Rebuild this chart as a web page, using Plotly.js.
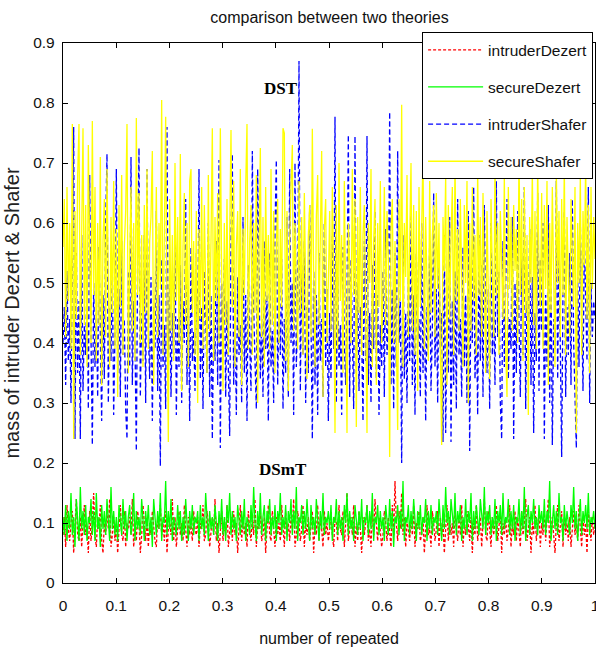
<!DOCTYPE html>
<html>
<head>
<meta charset="utf-8">
<script src="https://cdn.plot.ly/plotly-3.0.1.min.js"></script>
<style>html,body{margin:0;padding:0;background:#fff;}#chart{width:596px;height:652px;}</style>
</head>
<body>
<div id="chart"></div>
<script>
// ---- data (estimated) ----
var xStart = 0, xEnd = 1;
var seriesNames = ["intruderDezert", "secureDezert", "intruderShafer", "secureShafer"];

var intruderDezert = [
0.08,0.11,0.06,0.13,0.09,0.07,0.10,0.12,0.05,0.09,0.14,0.08,0.07,0.11,0.06,0.10,0.13,0.08,0.09,0.05,
0.12,0.07,0.10,0.15,0.08,0.06,0.11,0.09,0.13,0.07,0.05,0.10,0.08,0.12,0.09,0.14,0.06,0.08,0.11,0.07,
0.10,0.05,0.09,0.13,0.08,0.07,0.12,0.06,0.10,0.09,0.11,0.08,0.14,0.06,0.09,0.07,0.12,0.10,0.05,0.08,
0.13,0.09,0.07,0.11,0.06,0.10,0.08,0.12,0.09,0.07,0.06,0.11,0.09,0.13,0.08,0.10,0.07,0.12,0.05,0.09,
0.10,0.08,0.14,0.07,0.11,0.06,0.09,0.12,0.08,0.10,0.07,0.13,0.09,0.06,0.11,0.08,0.10,0.07,0.12,0.09,
0.08,0.11,0.06,0.10,0.09,0.13,0.07,0.08,0.12,0.10,0.06,0.09,0.11,0.08,0.14,0.07,0.10,0.05,0.09,0.12,
0.07,0.10,0.08,0.13,0.06,0.09,0.11,0.07,0.12,0.08,0.10,0.05,0.09,0.13,0.07,0.11,0.08,0.10,0.06,0.12,
0.09,0.07,0.11,0.08,0.14,0.06,0.10,0.09,0.12,0.07,0.08,0.11,0.05,0.10,0.13,0.08,0.07,0.12,0.09,0.06,
0.11,0.08,0.10,0.07,0.13,0.09,0.06,0.12,0.08,0.10,0.07,0.11,0.09,0.14,0.06,0.08,0.12,0.10,0.07,0.09,
0.13,0.06,0.10,0.08,0.11,0.07,0.09,0.12,0.05,0.10,0.08,0.13,0.07,0.11,0.09,0.06,0.12,0.08,0.10,0.07,
0.09,0.12,0.08,0.06,0.11,0.10,0.07,0.13,0.09,0.08,0.12,0.06,0.10,0.15,0.07,0.09,0.11,0.08,0.13,0.06,
0.10,0.07,0.12,0.09,0.05,0.11,0.08,0.10,0.13,0.07,0.09,0.06,0.12,0.08,0.14,0.10,0.07,0.11,0.09,0.06,
0.08,0.12,0.10,0.07,0.11,0.09,0.06,0.13,0.08,0.17,0.10,0.07,0.12,0.09,0.15,0.08,0.11,0.06,0.10,0.09,
0.07,0.11,0.08,0.13,0.06,0.10,0.09,0.12,0.07,0.08,0.11,0.05,0.10,0.13,0.08,0.09,0.06,0.12,0.10,0.07,
0.09,0.12,0.06,0.11,0.08,0.10,0.05,0.09,0.13,0.07,0.11,0.08,0.10,0.06,0.12,0.09,0.07,0.11,0.08,0.13,
0.06,0.10,0.08,0.12,0.09,0.07,0.11,0.05,0.10,0.08,0.13,0.07,0.09,0.11,0.06,0.10,0.14,0.08,0.07,0.12,
0.09,0.06,0.11,0.08,0.10,0.13,0.07,0.09,0.12,0.05,0.10,0.08,0.11,0.07,0.09,0.13,0.06,0.10,0.08,0.12,
0.07,0.11,0.09,0.06,0.12,0.08,0.10,0.14,0.07,0.09,0.11,0.05,0.10,0.08,0.13,0.07,0.09,0.12,0.06,0.10,
0.08,0.12,0.07,0.10,0.14,0.06,0.09,0.11,0.08,0.05,0.10,0.13,0.07,0.09,0.12,0.06,0.11,0.08,0.10,0.07,
0.11,0.06,0.09,0.12,0.08,0.10,0.07,0.13,0.09,0.06,0.11,0.08,0.10,0.05,0.12,0.09,0.07,0.11,0.08,0.10];

var secureDezert = [
0.11,0.08,0.13,0.07,0.12,0.09,0.15,0.08,0.11,0.06,0.14,0.10,0.07,0.16,0.09,0.12,0.08,0.13,0.07,0.11,
0.10,0.14,0.08,0.12,0.07,0.15,0.09,0.11,0.06,0.13,0.09,0.12,0.08,0.14,0.10,0.07,0.16,0.09,0.12,0.08,
0.11,0.07,0.13,0.10,0.08,0.14,0.09,0.12,0.07,0.11,0.13,0.08,0.10,0.15,0.07,0.12,0.09,0.11,0.08,0.14,
0.10,0.07,0.12,0.09,0.13,0.08,0.11,0.06,0.14,0.10,0.08,0.12,0.09,0.15,0.07,0.11,0.10,0.17,0.08,0.12,
0.09,0.14,0.07,0.11,0.10,0.08,0.13,0.09,0.12,0.07,0.11,0.08,0.14,0.10,0.07,0.12,0.09,0.13,0.08,0.11,
0.10,0.12,0.07,0.13,0.09,0.11,0.08,0.15,0.10,0.07,0.12,0.09,0.11,0.08,0.13,0.10,0.07,0.12,0.09,0.14,
0.08,0.11,0.07,0.13,0.10,0.15,0.08,0.12,0.09,0.11,0.07,0.13,0.10,0.08,0.12,0.09,0.14,0.07,0.11,0.10,
0.08,0.13,0.09,0.16,0.10,0.07,0.12,0.09,0.15,0.08,0.11,0.13,0.07,0.12,0.10,0.14,0.08,0.11,0.09,0.13,
0.07,0.12,0.10,0.15,0.08,0.11,0.09,0.13,0.07,0.12,0.10,0.14,0.08,0.12,0.09,0.16,0.07,0.11,0.10,0.13,
0.08,0.12,0.09,0.14,0.10,0.07,0.13,0.09,0.11,0.08,0.14,0.10,0.07,0.12,0.09,0.15,0.08,0.11,0.10,0.12,
0.09,0.13,0.07,0.11,0.10,0.14,0.08,0.12,0.09,0.11,0.07,0.13,0.10,0.15,0.08,0.12,0.09,0.11,0.07,0.13,
0.10,0.08,0.12,0.09,0.14,0.07,0.11,0.10,0.13,0.08,0.12,0.09,0.15,0.07,0.11,0.10,0.13,0.08,0.12,0.09,
0.11,0.07,0.13,0.10,0.08,0.14,0.09,0.12,0.06,0.11,0.10,0.13,0.08,0.12,0.09,0.17,0.07,0.11,0.10,0.13,
0.08,0.12,0.09,0.14,0.10,0.07,0.12,0.09,0.13,0.08,0.11,0.10,0.14,0.07,0.12,0.09,0.13,0.08,0.11,0.10,
0.12,0.08,0.14,0.10,0.07,0.13,0.09,0.16,0.10,0.12,0.08,0.14,0.11,0.09,0.15,0.08,0.12,0.10,0.13,0.07,
0.11,0.09,0.14,0.08,0.12,0.10,0.15,0.07,0.12,0.09,0.13,0.10,0.08,0.14,0.11,0.09,0.16,0.08,0.12,0.10,
0.13,0.08,0.11,0.09,0.14,0.07,0.12,0.10,0.13,0.08,0.15,0.09,0.11,0.10,0.14,0.08,0.12,0.09,0.13,0.07,
0.11,0.10,0.14,0.08,0.12,0.09,0.16,0.07,0.11,0.13,0.08,0.12,0.10,0.14,0.09,0.11,0.08,0.13,0.10,0.12,
0.09,0.14,0.08,0.12,0.10,0.17,0.07,0.11,0.13,0.09,0.12,0.08,0.15,0.10,0.11,0.07,0.13,0.09,0.12,0.10,
0.08,0.13,0.10,0.16,0.09,0.12,0.07,0.11,0.14,0.08,0.12,0.10,0.13,0.09,0.15,0.08,0.11,0.10,0.12,0.09];

var intruderShafer = [
0.40,0.46,0.33,0.52,0.37,0.44,0.30,0.49,0.76,0.24,0.55,0.35,0.47,0.24,0.58,0.32,0.43,0.38,0.51,0.29,
0.68,0.41,0.23,0.50,0.36,0.45,0.31,0.56,0.39,0.27,0.48,0.34,0.60,0.715,0.30,0.46,0.37,0.53,0.28,0.42,
0.69,0.35,0.49,0.31,0.57,0.38,0.44,0.29,0.24,0.52,0.36,0.71,0.33,0.47,0.40,0.22,0.55,0.725,0.31,0.45,
0.37,0.58,0.30,0.69,0.42,0.34,0.51,0.27,0.46,0.39,0.62,0.32,0.48,0.195,0.54,0.36,0.43,0.29,0.76,0.35,
0.50,0.31,0.45,0.38,0.59,0.28,0.44,0.36,0.53,0.30,0.47,0.40,0.64,0.33,0.49,0.27,0.56,0.37,0.42,0.32,
0.55,0.38,0.69,0.34,0.46,0.29,0.52,0.41,0.35,0.60,0.31,0.48,0.24,0.44,0.37,0.57,0.33,0.705,0.225,0.50,
0.39,0.54,0.31,0.47,0.36,0.245,0.58,0.715,0.33,0.45,0.28,0.51,0.38,0.43,0.30,0.61,0.35,0.48,0.27,0.53,
0.40,0.32,0.72,0.46,0.37,0.29,0.69,0.52,0.34,0.44,0.31,0.57,0.39,0.48,0.27,0.55,0.36,0.42,0.30,0.59,
0.705,0.33,0.47,0.38,0.54,0.29,0.44,0.35,0.61,0.31,0.69,0.40,0.50,0.28,0.70,0.36,0.45,0.87,0.32,0.53,
0.38,0.57,0.30,0.46,0.35,0.63,0.41,0.24,0.52,0.33,0.48,0.28,0.55,0.37,0.44,0.31,0.60,0.36,0.49,0.27,
0.45,0.34,0.58,0.39,0.777,0.30,0.51,0.36,0.43,0.28,0.56,0.40,0.33,0.47,0.747,0.31,0.54,0.38,0.29,0.745,
0.35,0.50,0.32,0.46,0.41,0.27,0.57,0.37,0.745,0.33,0.45,0.30,0.53,0.39,0.62,0.34,0.48,0.28,0.43,0.36,
0.52,0.31,0.59,0.38,0.44,0.785,0.33,0.49,0.29,0.55,0.36,0.72,0.40,0.47,0.20,0.58,0.34,0.45,0.30,0.51,
0.37,0.63,0.33,0.48,0.28,0.55,0.40,0.44,0.31,0.60,0.35,0.50,0.27,0.46,0.38,0.57,0.32,0.42,0.65,0.36,
0.49,0.30,0.54,0.39,0.45,0.235,0.58,0.25,0.43,0.35,0.61,0.235,0.47,0.33,0.52,0.29,0.64,0.38,0.44,0.31,
0.56,0.36,0.48,0.30,0.62,0.22,0.51,0.40,0.66,0.34,0.45,0.28,0.58,0.37,0.53,0.31,0.63,0.42,0.35,0.49,
0.29,0.60,0.38,0.46,0.33,0.67,0.41,0.52,0.30,0.24,0.57,0.36,0.48,0.64,0.34,0.44,0.39,0.61,0.24,0.50,
0.35,0.62,0.43,0.31,0.55,0.38,0.66,0.29,0.47,0.40,0.59,0.33,0.51,0.25,0.45,0.37,0.65,0.32,0.54,0.42,
0.60,0.24,0.48,0.36,0.63,0.30,0.52,0.23,0.44,0.39,0.67,0.34,0.57,0.41,0.21,0.49,0.62,0.31,0.46,0.38,
0.55,0.33,0.64,0.40,0.28,0.225,0.51,0.36,0.60,0.43,0.32,0.58,0.45,0.37,0.66,0.30,0.50,0.41,0.47,0.44];

var secureShafer = [
0.56,0.64,0.41,0.66,0.47,0.60,0.39,0.765,0.24,0.62,0.44,0.68,0.765,0.38,0.58,0.758,0.43,0.63,0.36,0.73,
0.55,0.40,0.77,0.48,0.66,0.37,0.60,0.43,0.71,0.33,0.57,0.64,0.41,0.69,0.50,0.36,0.61,0.45,0.67,0.39,
0.59,0.31,0.63,0.46,0.68,0.38,0.56,0.62,0.765,0.35,0.54,0.66,0.42,0.60,0.37,0.775,0.48,0.65,0.40,0.58,
0.36,0.63,0.45,0.69,0.39,0.57,0.61,0.72,0.33,0.55,0.66,0.41,0.60,0.49,0.805,0.38,0.62,0.777,0.46,0.235,
0.64,0.42,0.58,0.37,0.70,0.47,0.61,0.40,0.715,0.32,0.56,0.65,0.43,0.60,0.36,0.67,0.69,0.45,0.57,0.38,
0.62,0.30,0.59,0.44,0.66,0.39,0.63,0.50,0.35,0.68,0.42,0.57,0.758,0.37,0.61,0.47,0.65,0.40,0.758,0.52,
0.32,0.60,0.43,0.64,0.38,0.58,0.755,0.46,0.67,0.36,0.56,0.62,0.41,0.69,0.33,0.59,0.48,0.66,0.765,0.39,
0.57,0.63,0.38,0.60,0.45,0.68,0.30,0.55,0.725,0.41,0.61,0.36,0.66,0.47,0.58,0.39,0.69,0.43,0.62,0.35,
0.56,0.64,0.40,0.59,0.46,0.758,0.75,0.37,0.62,0.32,0.57,0.66,0.73,0.42,0.60,0.49,0.39,0.67,0.45,0.61,
0.38,0.65,0.47,0.34,0.58,0.63,0.41,0.757,0.51,0.36,0.61,0.68,0.43,0.56,0.72,0.31,0.59,0.64,0.40,0.50,
0.62,0.42,0.66,0.51,0.25,0.63,0.39,0.70,0.47,0.58,0.35,0.67,0.43,0.25,0.60,0.53,0.40,0.69,0.48,0.64,
0.26,0.61,0.45,0.66,0.38,0.58,0.63,0.41,0.25,0.60,0.50,0.69,0.36,0.57,0.64,0.33,0.60,0.46,0.67,0.40,
0.49,0.66,0.43,0.62,0.54,0.21,0.59,0.64,0.40,0.57,0.37,0.255,0.64,0.47,0.797,0.36,0.60,0.51,0.68,0.41,
0.57,0.70,0.42,0.63,0.38,0.62,0.32,0.66,0.46,0.59,0.72,0.39,0.61,0.50,0.37,0.67,0.45,0.58,0.63,0.41,
0.65,0.49,0.60,0.39,0.23,0.61,0.52,0.68,0.33,0.63,0.44,0.57,0.66,0.38,0.71,0.47,0.59,0.42,0.64,0.51,
0.36,0.63,0.50,0.67,0.30,0.60,0.42,0.66,0.47,0.58,0.38,0.69,0.48,0.61,0.41,0.65,0.53,0.35,0.62,0.45,
0.34,0.64,0.51,0.41,0.70,0.48,0.60,0.38,0.62,0.54,0.44,0.68,0.39,0.31,0.66,0.49,0.61,0.42,0.63,0.52,
0.59,0.40,0.72,0.48,0.64,0.37,0.66,0.45,0.58,0.28,0.61,0.50,0.69,0.43,0.62,0.39,0.70,0.53,0.46,0.65,
0.39,0.63,0.49,0.67,0.33,0.60,0.45,0.66,0.54,0.36,0.69,0.50,0.62,0.41,0.64,0.48,0.70,0.38,0.61,0.52,
0.41,0.64,0.54,0.46,0.66,0.25,0.60,0.50,0.68,0.38,0.62,0.53,0.70,0.44,0.63,0.35,0.66,0.49,0.61,0.54];

var yTicks = [0, 0.1, 0.2, 0.3, 0.4, 0.5, 0.6, 0.7, 0.8, 0.9];
var xTicks = [0, 0.1, 0.2, 0.3, 0.4, 0.5, 0.6, 0.7, 0.8, 0.9, 1];

// ---- build ----
function xs(arr) {
  var out = [];
  for (var i = 0; i < arr.length; i++) out.push(xStart + (xEnd - xStart) * i / (arr.length - 1));
  return out;
}
var FONT = '"Liberation Sans", Arial, sans-serif';
var LW = 1.3;
var data = [
  {x: xs(intruderDezert), y: intruderDezert, name: seriesNames[0], type: 'scatter', mode: 'lines',
   line: {color: '#ff0000', width: LW, dash: '3px,2px'}, legendgroup: 'a'},
  {x: xs(secureDezert), y: secureDezert, name: seriesNames[1], type: 'scatter', mode: 'lines',
   line: {color: '#00ff00', width: LW}, legendgroup: 'b'},
  {x: xs(intruderShafer), y: intruderShafer, name: seriesNames[2], type: 'scatter', mode: 'lines',
   line: {color: '#0000ff', width: LW, dash: '5px,3px'}, legendgroup: 'c'},
  {x: xs(secureShafer), y: secureShafer, name: seriesNames[3], type: 'scatter', mode: 'lines',
   line: {color: '#ffff00', width: LW}, legendgroup: 'd'}
];

var axisCommon = {
  showline: true, linecolor: '#000', linewidth: 1.2, mirror: 'ticks',
  ticks: 'inside', ticklen: 5, tickcolor: '#000', tickwidth: 1,
  showgrid: false, zeroline: false,
  tickfont: {family: FONT, size: 15.5, color: '#111'}
};

var layout = {
  width: 596, height: 652,
  margin: {l: 63, r: 1, t: 43, b: 69},
  paper_bgcolor: '#fff', plot_bgcolor: '#fff',
  showlegend: true,
  title: {text: 'comparison between two theories', font: {family: FONT, size: 16, color: '#111'},
          x: 0.5528, xanchor: 'center', y: 0.974, yanchor: 'middle'},
  xaxis: Object.assign({}, axisCommon, {
    range: [0, 1], tickvals: xTicks, ticktext: xTicks.map(String),
    ticklabeloverflow: 'allow', ticklabelstandoff: 8,
    title: {text: 'number of repeated', font: {family: FONT, size: 16, color: '#111'}, standoff: 20}
  }),
  yaxis: Object.assign({}, axisCommon, {
    range: [0, 0.9], tickvals: yTicks, ticktext: yTicks.map(String),
    ticklabelstandoff: 4,
    title: {text: 'mass of intruder Dezert &amp; Shafer', font: {family: FONT, size: 20, color: '#222'}, standoff: 8}
  }),
  legend: {
    x: 0.675, xanchor: 'left', y: 1.02, yanchor: 'top',
    bgcolor: '#fff', bordercolor: '#000', borderwidth: 1,
    font: {family: FONT, size: 15.5, color: '#111'},
    tracegroupgap: 14, itemwidth: 55
  },
  annotations: [
    {x: 0.41, y: 0.825, xref: 'x', yref: 'y', text: '<b>DST</b>', showarrow: false,
     font: {family: '"Liberation Serif", "Times New Roman", serif', size: 17, color: '#000'}},
    {x: 0.414, y: 0.19, xref: 'x', yref: 'y', text: '<b>DSmT</b>', showarrow: false,
     font: {family: '"Liberation Serif", "Times New Roman", serif', size: 17, color: '#000'}}
  ]
};

Plotly.newPlot('chart', data, layout, {staticPlot: true, displayModeBar: false});
</script>
</body>
</html>
